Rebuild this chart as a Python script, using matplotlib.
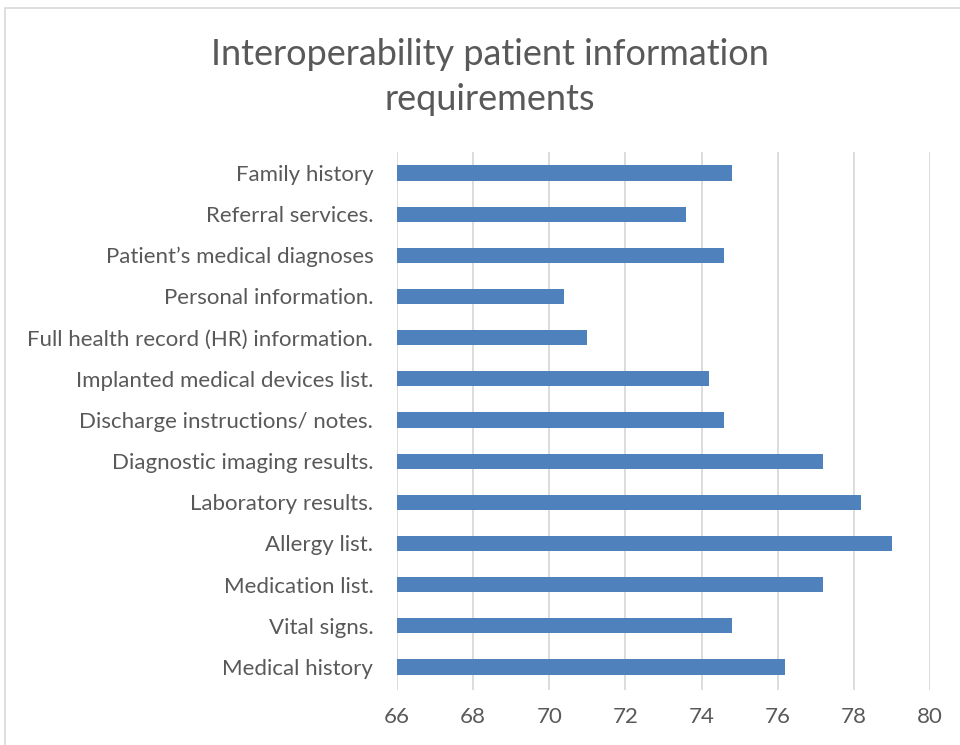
import matplotlib.pyplot as plt
from matplotlib.patches import Rectangle

# categories listed bottom to top, as drawn on the y axis
categories = [
    "Medical history",
    "Vital signs.",
    "Medication list.",
    "Allergy list.",
    "Laboratory results.",
    "Diagnostic imaging results.",
    "Discharge instructions/ notes.",
    "Implanted medical devices list.",
    "Full health record (HR) information.",
    "Personal information.",
    "Patient\u2019s medical diagnoses",
    "Referral services.",
    "Family history",
]
values = [76.2, 74.8, 77.2, 79.0, 78.2, 77.2, 74.6, 74.2, 71.0, 70.4, 74.6, 73.6, 74.8]
x_ticks = [66, 68, 70, 72, 74, 76, 78, 80]

text_color = "#595959"
bar_color = "#4F81BD"
plt.rcParams['font.family'] = ['Lato', 'DejaVu Sans']

fig = plt.figure(figsize=(9.6, 7.45), dpi=100)
ax = fig.add_axes([0.4135, 0.0738, 0.5552, 0.7222])

base = x_ticks[0]
ax.barh(range(len(categories)), [v - base for v in values], left=base,
        height=0.37, color=bar_color, zorder=3)

ax.set_xlim(x_ticks[0], x_ticks[-1])
ax.set_ylim(-0.56, len(categories) - 0.49)
ax.set_xticks(x_ticks)
ax.set_yticks(range(len(categories)))
ax.set_yticklabels(categories)
ax.grid(axis='x', color='#D9D9D9', linewidth=1.3, zorder=0)
for s in ax.spines.values():
    s.set_visible(False)
ax.tick_params(axis='y', length=0, pad=17, labelsize=16, labelcolor=text_color)
ax.tick_params(axis='x', length=0, pad=12, labelsize=16, labelcolor=text_color)

fig.text(0.51, 0.897, "Interoperability patient information\nrequirements",
         ha='center', va='center', fontsize=26, color=text_color,
         linespacing=1.45)

# chart area border
fig.patches.append(Rectangle((5 / 960, -0.01), 1.0, 1 - 8 / 745 + 0.01,
                             transform=fig.transFigure, fill=False,
                             edgecolor='#D9D9D9', linewidth=1.2))

fig.savefig("out.png", dpi=100)
